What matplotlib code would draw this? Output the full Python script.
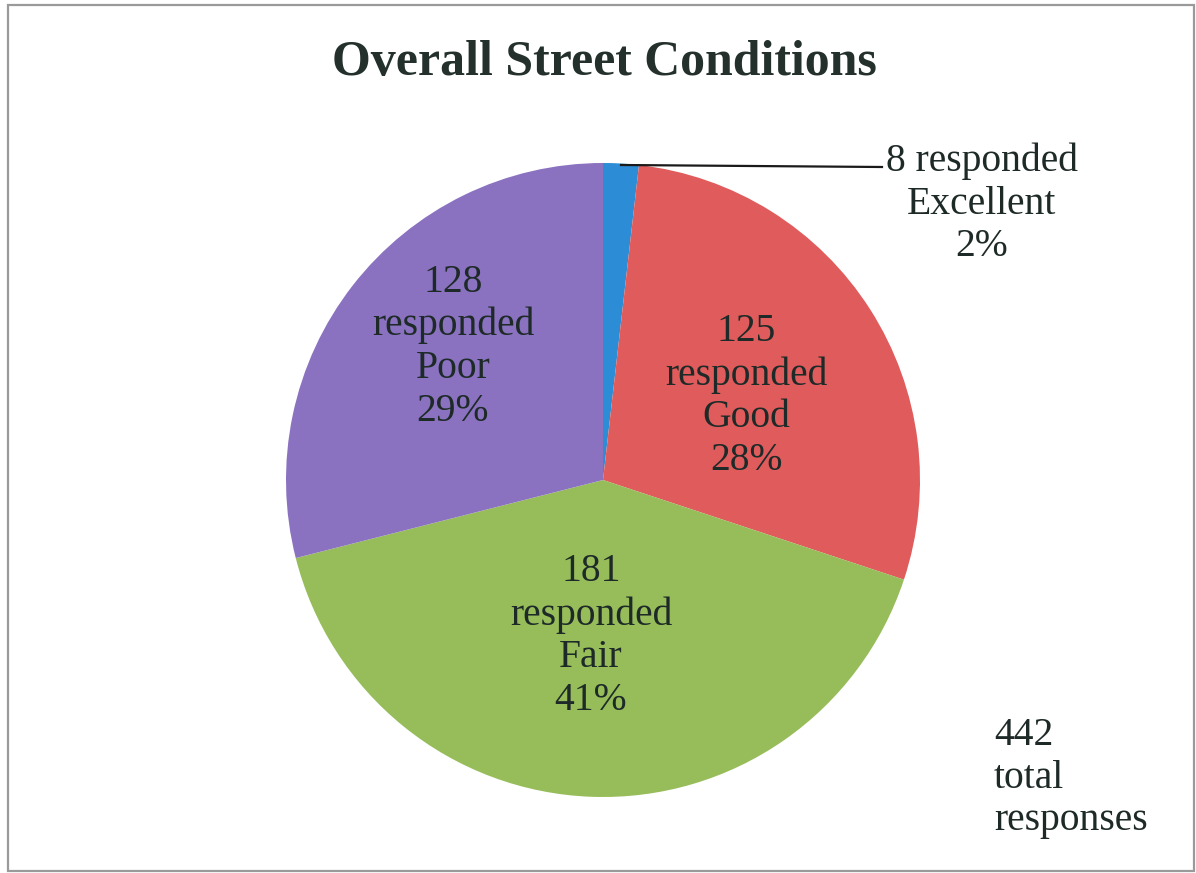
import matplotlib
matplotlib.use("Agg")
import matplotlib.pyplot as plt
from matplotlib.patches import Rectangle

categories = ["Excellent", "Good", "Fair", "Poor"]
counts = [8, 125, 181, 128]
percents = ["2%", "28%", "41%", "29%"]
total = 442
title = "Overall Street Conditions"

colors = ["#2C8DD6", "#E05C5C", "#97BD5A", "#8A72C0"]
txt_color = "#1E2A28"

W, H = 1196, 873
fig = plt.figure(figsize=(W / 100, H / 100), dpi=100)
fig.patch.set_facecolor("white")

# frame border
fig.add_artist(Rectangle((8 / W, 2 / H), (1194 - 8) / W, (868 - 2) / H,
                         transform=fig.transFigure, fill=False,
                         edgecolor="#9a9a9a", linewidth=1.6))

cx, cy, r = 603, 480, 317
ax = fig.add_axes([(cx - r) / W, (H - cy - r) / H, 2 * r / W, 2 * r / H])
ax.axis("off")

ax.pie(counts, colors=colors, startangle=90, counterclock=False,
       radius=1, wedgeprops=dict(linewidth=0))
ax.set_xlim(-1, 1)
ax.set_ylim(-1, 1)
ax.set_aspect("equal")

font = dict(family="Liberation Serif", fontsize=28.5, color=txt_color,
            ha="center", va="center", linespacing=1.2)

def px(x, y):
    return (x - cx) / r, (cy - y) / r

label_pos = {"Good": (746, 396), "Fair": (591, 636), "Poor": (453, 347)}
for cat, n, p in zip(categories, counts, percents):
    if cat in label_pos:
        x, y = px(*label_pos[cat])
        ax.text(x, y, f"{n}\nresponded\n{cat}\n{p}", **font)

# Excellent label with leader line
x0, y0 = px(621, 165)
x1, y1 = px(882, 167)
ax.plot([x0, x1], [y0, y1], color="#1a1a1a", lw=1.6, clip_on=False)
ex, ey = px(982, 204)
ax.text(ex, ey, f"{counts[0]} responded\n{categories[0]}\n{percents[0]}",
        clip_on=False, **font)

tx, ty = px(994, 778)
f2 = dict(font); f2["ha"] = "left"
ax.text(tx, ty, f"{total}\ntotal\nresponses", clip_on=False, **f2)

fig.text(604 / W, 1 - 63 / H, title, family="Liberation Serif",
         fontweight="bold", fontsize=35.9, color="#24302c",
         ha="center", va="center")

fig.savefig("out.png", dpi=100)
